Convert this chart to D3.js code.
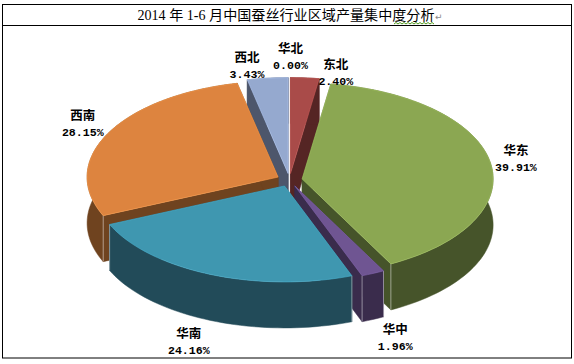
<!DOCTYPE html>
<html>
<head>
<meta charset="utf-8">
<script src="https://cdn.jsdelivr.net/npm/d3@7"></script>
<style>
  body { margin: 0; background: #fff; }
  svg { display: block; }
</style>
</head>
<body>
<script>
// data, clockwise from the top
const categories = ["华北", "东北", "华东", "华中", "华南", "西南", "西北"];
const shares = [0.00, 2.40, 39.91, 1.96, 24.16, 28.15, 3.43];
const topColors = ["#4f81bd", "#a94b49", "#8ba752", "#6f5592", "#3f97b0", "#dd843f", "#95a9cf"];
const sideColors = ["#27405e", "#552524", "#46542a", "#3a2c4c", "#224b59", "#6f431f", "#4d566b"];

const width = 574, height = 364;
const cx = 289.5, cy = 180, rx = 191, ry = 96;
const depth = 46, explode = 0.067;

const svg = d3.select("body").append("svg")
    .attr("width", width)
    .attr("height", height);

// table frame around the chart
svg.append("rect")
    .attr("x", 2.5).attr("y", 4.5)
    .attr("width", 569).attr("height", 353.5)
    .attr("fill", "none")
    .attr("stroke", "#000");
svg.append("line")
    .attr("x1", 2).attr("x2", 572)
    .attr("y1", 25.5).attr("y2", 25.5)
    .attr("stroke", "#000");

svg.append("text")
    .attr("x", 286).attr("y", 20)
    .attr("text-anchor", "middle")
    .style("font-size", "14.1px")
    .style("font-family", "'Liberation Serif','Noto Sans CJK SC'")
    .text("2014 年 1-6 月中国蚕丝行业区域产量集中度分析");

svg.append("text")
    .attr("x", 435).attr("y", 20)
    .style("font-size", "9px")
    .style("font-family", "'DejaVu Sans'")
    .attr("fill", "#888")
    .text("↵");

// spell-check squiggle under the last three characters
const squiggle = d3.range(394, 435, 2).map((x, i) => [x, i % 2 ? 22.5 : 24]);
svg.append("path")
    .attr("d", d3.line()(squiggle))
    .attr("fill", "none")
    .attr("stroke", "#4f9a1e")
    .attr("stroke-width", 1);

// pie angles, then a flat projection of the circle
const pie = d3.pie().value(d => d.share).sort(null);
const slices = pie(categories.map((name, i) => ({
    name: name, share: shares[i], top: topColors[i], side: sideColors[i]
})));

const px = (a, k) => k * rx * Math.sin(a);
const py = (a, k) => -k * ry * Math.cos(a);

slices.forEach(s => {
    s.mid = (s.startAngle + s.endAngle) / 2;
    s.ax = cx + px(s.mid, explode);
    s.ay = cy + py(s.mid, explode);
    const n = Math.max(2, Math.ceil((s.endAngle - s.startAngle) * 30));
    s.rim = d3.range(n + 1).map(i => {
        const a = s.startAngle + (s.endAngle - s.startAngle) * i / n;
        return [s.ax + px(a, 1), s.ay + py(a, 1)];
    });
});

const closed = d3.line().curve(d3.curveLinearClosed);
const down = p => [p[0], p[1] + depth];

function drawSides(g, s) {
    const apex = [s.ax, s.ay];
    const first = s.rim[0], last = s.rim[s.rim.length - 1];
    const faces = [
        [apex, first, down(first), down(apex)],
        [apex, last, down(last), down(apex)],
        s.rim.concat(s.rim.map(down).reverse())
    ];
    g.selectAll(null)
        .data(faces)
        .enter()
        .append("path")
        .attr("d", d => closed(d))
        .attr("fill", s.data.side)
        .attr("stroke", s.data.side)
        .attr("stroke-width", 0.5);
}

// back slices first, each later slice paints over the walls behind it
const drawOrder = ["西北", "东北", "西南", "华东", "华中", "华南"];

drawOrder.forEach(name => {
    const s = slices.find(d => d.data.name === name);
    const g = svg.append("g").attr("class", "slice");
    drawSides(g, s);

    // pale edge on the visible front corners
    const front = [s.rim[0], s.rim[s.rim.length - 1]].filter(p => p[1] > cy + 20);
    g.selectAll("line")
        .data(front)
        .enter()
        .append("line")
        .attr("x1", d => d[0]).attr("x2", d => d[0])
        .attr("y1", d => d[1]).attr("y2", d => d[1] + depth)
        .attr("stroke", "#fff")
        .attr("stroke-opacity", 0.45);

    g.append("path")
        .attr("d", closed([[s.ax, s.ay]].concat(s.rim)))
        .attr("fill", s.data.top)
        .attr("stroke", d3.color(s.data.top).brighter(0.5))
        .attr("stroke-width", 0.6);
});

// labels sit outside the rim, the front ones below the wall
const labelNudge = {
    "华北": [1, 5], "东北": [27, 20], "华东": [-9, -2], "华中": [8, 2],
    "华南": [-8, 4], "西南": [6, -3], "西北": [-15, 13]
};

const labels = svg.append("g")
    .selectAll("g")
    .data(slices)
    .enter()
    .append("g")
    .attr("transform", d => {
        const n = labelNudge[d.data.name];
        const lift = Math.cos(d.mid) < -0.5 ? depth : 0;
        const k = Math.cos(d.mid) > 0.9 ? 1.34 : 1.25;
        const x = cx + px(d.mid, k) + n[0];
        const y = cy + py(d.mid, k) + lift + n[1];
        return "translate(" + x + "," + y + ")";
    })
    .attr("text-anchor", "middle")
    .attr("fill", "#000")
    .style("font-weight", "bold");

labels.append("text")
    .attr("y", -3)
    .style("font-size", "12.5px")
    .style("font-family", "'Noto Sans CJK SC'")
    .text(d => d.data.name);

labels.append("text")
    .attr("y", 13)
    .style("font-size", "11.6px")
    .style("font-family", "'Liberation Mono'")
    .text(d => d.data.share.toFixed(2) + "%");
</script>
</body>
</html>
